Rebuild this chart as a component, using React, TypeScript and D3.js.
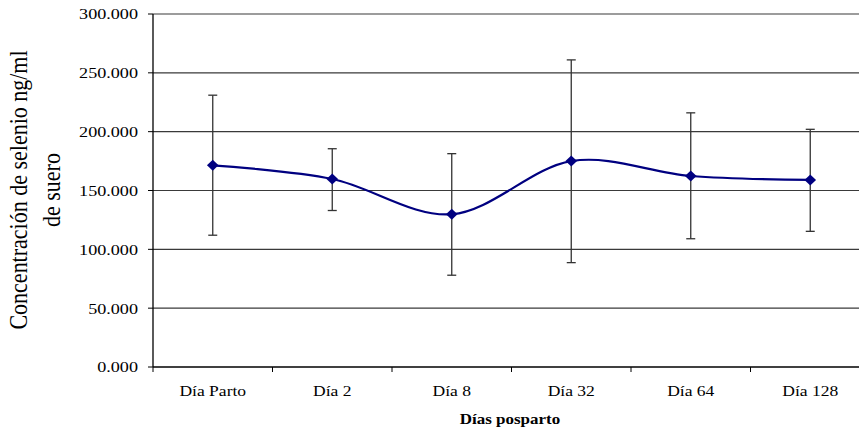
import React from 'react';
import * as d3 from 'd3';

const categories = ['Día Parto', 'Día 2', 'Día 8', 'Día 32', 'Día 64', 'Día 128'];
const means = [171.4, 159.8, 129.8, 175.0, 162.3, 159.0];
const upper = [231, 185.5, 181.3, 261, 216, 202];
const lower = [112, 133, 78, 88.7, 109, 115.3];
const yTicks = [0, 50, 100, 150, 200, 250, 300];

const W = 859;
const H = 429;
const left = 153;
const right = 870; // plot runs past the picture edge, as in the source
const top = 14;
const bottom = 367;
const sx = 1.17; // the source text is stretched horizontally
const serif = '"Liberation Serif", "Times New Roman", serif';

const App = () => {
  const x = d3.scaleBand().domain(categories).range([left, right]);
  const y = d3.scaleLinear().domain([0, 300]).range([bottom, top]);
  const cx = (c: string) => (x(c) as number) + x.bandwidth() / 2;

  const pts: [number, number][] = categories.map((c, i) => [cx(c), y(means[i])]);
  const line = d3.line().curve(d3.curveCatmullRom.alpha(0))(pts) || '';
  const diamond = (px: number, py: number) =>
    `M${px},${py - 5.5}L${px + 5.8},${py}L${px},${py + 5.5}L${px - 5.8},${py}Z`;

  return (
    <svg width={W} height={H} style={{ position: 'absolute', left: 0, top: 0, background: '#fff' }}
      fontFamily={serif}>
      {/* gridlines + y labels */}
      {yTicks.map((t) => (
        <g key={t}>
          {t > 0 && <line x1={left} x2={right} y1={y(t)} y2={y(t)} stroke="#3a3a3a" strokeWidth={1.2} />}
          <line x1={left - 5} x2={left} y1={y(t)} y2={y(t)} stroke="#000" />
          <g transform={`translate(${left - 15},${y(t)}) scale(${sx},1)`}>
            <text textAnchor="end" dy="0.35em" fontSize={15.5} fill="#000">
              {d3.format('.3f')(t)}
            </text>
          </g>
        </g>
      ))}
      {/* axes */}
      <line x1={left} x2={left} y1={top} y2={bottom} stroke="#000" strokeWidth={1.3} />
      <line x1={left} x2={right} y1={bottom} y2={bottom} stroke="#000" strokeWidth={1.3} />
      {categories.map((c) => (
        <g key={c}>
          <line x1={x(c)} x2={x(c)} y1={bottom} y2={bottom + 5} stroke="#000" />
          <g transform={`translate(${cx(c)},396) scale(${sx},1)`}>
            <text textAnchor="middle" fontSize={15} fill="#000">{c}</text>
          </g>
        </g>
      ))}
      {/* error bars */}
      {categories.map((c, i) => (
        <g key={'e' + c} stroke="#333" strokeWidth={1.3}>
          <line x1={cx(c)} x2={cx(c)} y1={y(upper[i])} y2={y(lower[i])} />
          <line x1={cx(c) - 4.5} x2={cx(c) + 4.5} y1={y(upper[i])} y2={y(upper[i])} />
          <line x1={cx(c) - 4.5} x2={cx(c) + 4.5} y1={y(lower[i])} y2={y(lower[i])} />
        </g>
      ))}
      {/* series */}
      <path d={line} fill="none" stroke="#000080" strokeWidth={2.2} />
      {pts.map(([px, py], i) => (
        <path key={i} d={diamond(px, py)} fill="#000080" />
      ))}
      {/* axis titles */}
      <g transform={`translate(510,424) scale(${sx},1)`}>
        <text textAnchor="middle" fontSize={14.5} fontWeight="bold" fill="#000">Días posparto</text>
      </g>
      <g transform={`translate(27,190) scale(${sx},1) rotate(-90)`}>
        <text textAnchor="middle" fontSize={22} fill="#000">Concentración de selenio ng/ml</text>
      </g>
      <g transform={`translate(60,190) scale(${sx},1) rotate(-90)`}>
        <text textAnchor="middle" fontSize={22} fill="#000">de suero</text>
      </g>
    </svg>
  );
};

export default App;
